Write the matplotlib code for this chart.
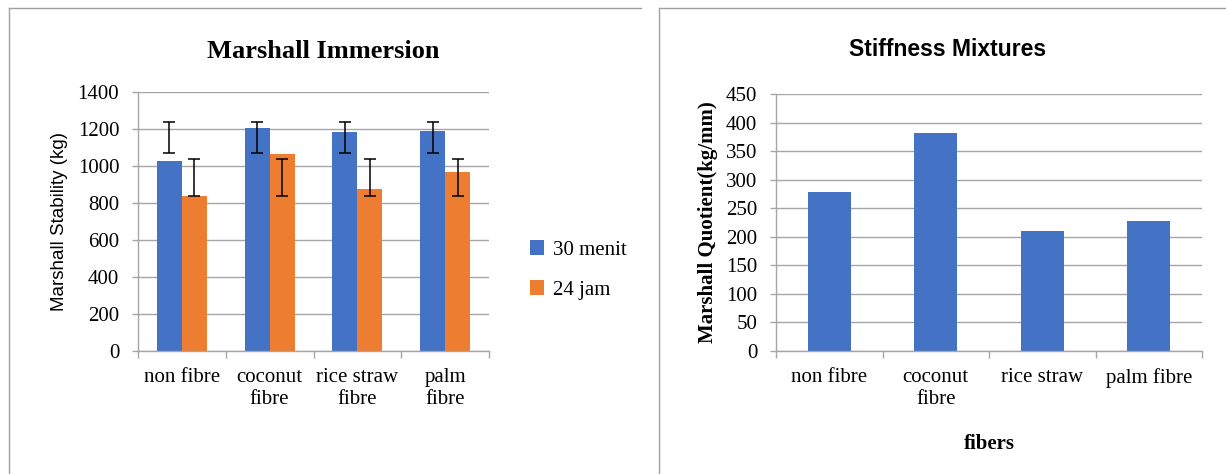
import matplotlib

matplotlib.use("Agg")
import matplotlib.pyplot as plt
from matplotlib.lines import Line2D
from matplotlib.patches import Patch
import numpy as np

# --- data ---
CATEGORIES_LEFT = ["non fibre", "coconut\nfibre", "rice straw\nfibre", "palm\nfibre"]
STAB_30_MENIT = [1027, 1208, 1183, 1190]
STAB_24_JAM = [839, 1064, 875, 970]
ERR_30_LOW = [1071, 1071, 1071, 1071]
ERR_30_HIGH = [1237, 1237, 1237, 1237]
ERR_24_LOW = [837, 837, 837, 837]
ERR_24_HIGH = [1038, 1038, 1038, 1038]
SERIES_NAMES = ["30 menit", "24 jam"]

CATEGORIES_RIGHT = ["non fibre", "coconut\nfibre", "rice straw", "palm fibre"]
QUOTIENT = [278, 381, 210, 227]

BLUE = "#4472C4"
ORANGE = "#ED7D31"
GRID = "#a6a6a6"
SERIF = "Liberation Serif"
SANS = "Liberation Sans"

W, H = 1226, 474
fig = plt.figure(figsize=(W / 100, H / 100), dpi=100)


def px(x0, y0, x1, y1):
    """pixel box (left, top, right, bottom) -> axes rect"""
    return [x0 / W, 1 - y1 / H, (x1 - x0) / W, (y1 - y0) / H]


def style_axes(ax, ymax, ystep, ncat):
    ax.set_xlim(-0.5, ncat - 0.5)
    ax.set_ylim(0, ymax)
    ax.set_yticks(np.arange(0, ymax + 1, ystep))
    ax.yaxis.grid(True, color=GRID, linewidth=1.0)
    ax.set_axisbelow(True)
    for s in ["top", "right"]:
        ax.spines[s].set_visible(False)
    for s in ["left", "bottom"]:
        ax.spines[s].set_color(GRID)
        ax.spines[s].set_linewidth(1.0)
    ax.tick_params(axis="y", length=4.5, width=1.0, color=GRID, pad=9,
                   labelsize=15)
    ax.tick_params(axis="x", which="major", length=0, pad=12, labelsize=15)
    ax.set_xticks(np.arange(-0.5, ncat, 1.0), minor=True)
    ax.tick_params(axis="x", which="minor", length=5, width=1.0, color=GRID)
    for lab in ax.get_yticklabels() + ax.get_xticklabels():
        lab.set_fontfamily(SERIF)


# --- left chart ---
ax1 = fig.add_axes(px(138, 92, 489, 351))
x = np.arange(len(CATEGORIES_LEFT))
bw = 0.285
ax1.bar(x - bw / 2, STAB_30_MENIT, bw, color=BLUE, zorder=2)
ax1.bar(x + bw / 2, STAB_24_JAM, bw, color=ORANGE, zorder=2)
for off, lo, hi in [(-bw / 2, ERR_30_LOW, ERR_30_HIGH), (bw / 2, ERR_24_LOW, ERR_24_HIGH)]:
    lo = np.array(lo)
    hi = np.array(hi)
    ax1.errorbar(x + off, (lo + hi) / 2, yerr=(hi - lo) / 2, fmt="none",
                 ecolor="black", elinewidth=1.1, capsize=4, capthick=1.1, zorder=3)
ax1.set_xticks(x)
ax1.set_xticklabels(CATEGORIES_LEFT, linespacing=1.25)
style_axes(ax1, 1400, 200, len(CATEGORIES_LEFT))
ax1.set_ylabel("Marshall Stability (kg)", fontfamily=SANS, fontsize=13.5, labelpad=7)
fig.text(323 / W, 1 - 52 / H, "Marshall Immersion", ha="center", va="center",
         fontfamily=SERIF, fontweight="bold", fontsize=19)

handles = [Patch(facecolor=BLUE), Patch(facecolor=ORANGE)]
fig.legend(handles, SERIES_NAMES, loc="center left",
           bbox_to_anchor=(511 / W, 1 - 270 / H), frameon=False,
           prop={"family": SERIF, "size": 15}, handlelength=0.7, handleheight=0.7,
           handletextpad=0.4, labelspacing=1.0)

# --- right chart ---
ax2 = fig.add_axes(px(776, 94, 1202, 351))
x2 = np.arange(len(CATEGORIES_RIGHT))
ax2.bar(x2, QUOTIENT, 0.40, color=BLUE, zorder=2)
ax2.set_xticks(x2)
ax2.set_xticklabels(CATEGORIES_RIGHT, linespacing=1.25)
style_axes(ax2, 450, 50, len(CATEGORIES_RIGHT))
ax2.set_ylabel("Marshall Quotient(kg/mm)", fontfamily=SERIF, fontweight="bold",
               fontsize=15, labelpad=6)
ax2.set_xlabel("fibers", fontfamily=SERIF, fontweight="bold", fontsize=15,
               labelpad=18)
fig.text(948 / W, 1 - 49 / H, "Stiffness Mixtures", ha="center", va="center",
         fontfamily=SANS, fontweight="bold", fontsize=16.5)

# --- panel borders ---
bc = "#a0a0a0"
fig.add_artist(Line2D([9 / W, 9 / W], [0, 1 - 8 / H], color=bc, lw=1.0))
fig.add_artist(Line2D([9 / W, 641 / W], [1 - 8 / H, 1 - 8 / H], color=bc, lw=1.0))
fig.add_artist(Line2D([659 / W, 659 / W], [0, 1 - 8 / H], color=bc, lw=1.0))
fig.add_artist(Line2D([659 / W, 1], [1 - 8 / H, 1 - 8 / H], color=bc, lw=1.0))

fig.savefig("out.png", dpi=100)
